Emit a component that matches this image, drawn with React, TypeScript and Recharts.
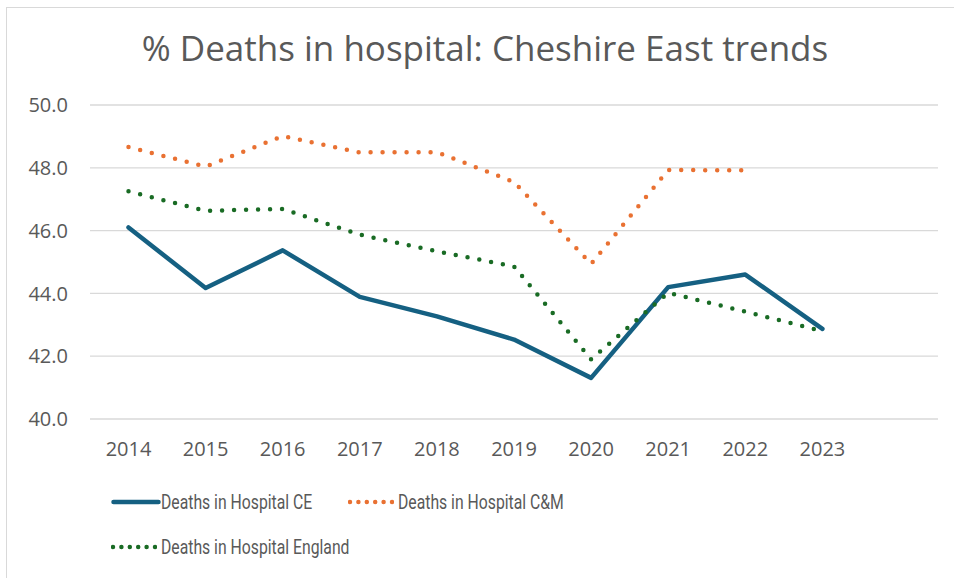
import React from 'react';
import { LineChart, Line, XAxis, YAxis, CartesianGrid } from 'recharts';

const years = ['2014', '2015', '2016', '2017', '2018', '2019', '2020', '2021', '2022', '2023', ''];
const ceValues = [46.1, 44.17, 45.37, 43.89, 43.27, 42.53, 41.31, 44.2, 44.6, 42.87, null];
const cmValues = [48.66, 48.04, 49.01, 48.49, 48.5, 47.55, 44.94, 47.93, 47.92, null, null];
const englandValues = [47.25, 46.63, 46.69, 45.87, 45.34, 44.86, 41.9, 44.02, 43.42, 42.8, null];
const yTicks = [40, 42, 44, 46, 48, 50];

const series = [
  { key: 'ce', name: 'Deaths in Hospital CE', color: '#156082', dotted: false },
  { key: 'cm', name: 'Deaths in Hospital C&M', color: '#E97132', dotted: true },
  { key: 'eng', name: 'Deaths in Hospital England', color: '#196B24', dotted: true },
];

const data = years.map((year, i) => ({
  year,
  ce: ceValues[i],
  cm: cmValues[i],
  eng: englandValues[i],
}));

const FONT = '"Open Sans", Roboto, sans-serif';
const TEXT = '#595959';

const LegendItem = ({ s, left, top }: { s: typeof series[number]; left: number; top: number }) => (
  <div style={{ position: 'absolute', left, top, display: 'flex', alignItems: 'center', whiteSpace: 'nowrap' }}>
    <svg width={s.dotted ? 46 : 50} height={10} style={{ display: 'block' }}>
      {s.dotted ? (
        <line x1={2} y1={5} x2={44} y2={5} stroke={s.color} strokeWidth={4.5}
          strokeDasharray="0 8.4" strokeLinecap="round" />
      ) : (
        <line x1={2.5} y1={5} x2={47.5} y2={5} stroke={s.color} strokeWidth={4.5} strokeLinecap="round" />
      )}
    </svg>
    <span style={{
      marginLeft: s.dotted ? 4 : 0, fontSize: 21, color: TEXT, fontFamily: 'Roboto, sans-serif',
      display: 'inline-block', transform: 'scaleX(0.75)', transformOrigin: 'left center',
    }}>
      {s.name}
    </span>
  </div>
);

export default function App() {
  return (
    <div style={{ position: 'fixed', left: 0, top: 0, width: 954, height: 578, background: '#fff', overflow: 'hidden' }}>
      <div style={{ position: 'absolute', left: 6, top: 7, width: 980, height: 600, border: '1px solid #d9d9d9' }} />
      <div style={{
        position: 'absolute', left: 0, top: 24, width: 970, textAlign: 'center',
        fontSize: 35, color: TEXT, fontFamily: FONT,
      }}>
        % Deaths in hospital: Cheshire East trends
      </div>
      <div style={{ position: 'absolute', left: 0, top: 0 }}>
        <LineChart width={954} height={578} data={data}
          margin={{ top: 105, right: 16, bottom: 119, left: 0 }}>
          <CartesianGrid horizontal vertical={false} stroke="#d9d9d9" strokeWidth={1.3} />
          <XAxis dataKey="year" axisLine={false} tickLine={false} tickMargin={17}
            interval={0} height={40} padding={{ left: 38.5, right: 38.5 }}
            tick={{ fill: TEXT, fontSize: 20, fontFamily: FONT }} />
          <YAxis domain={[40, 50]} ticks={yTicks} width={90} axisLine={false} tickLine={false}
            tickMargin={16} tickFormatter={(v: number) => v.toFixed(1)}
            tick={{ fill: TEXT, fontSize: 20, fontFamily: FONT }} />
          {series.map((s) => (
            <Line key={s.key} dataKey={s.key} name={s.name} type="linear" stroke={s.color}
              strokeWidth={4.5}
              strokeDasharray={s.dotted ? '0 12' : undefined}
              strokeLinecap="round" strokeLinejoin="round"
              dot={false} activeDot={false} isAnimationActive={false} />
          ))}
        </LineChart>
      </div>
      <LegendItem s={series[0]} left={111} top={490} />
      <LegendItem s={series[1]} left={348} top={490} />
      <LegendItem s={series[2]} left={111} top={535} />
    </div>
  );
}
